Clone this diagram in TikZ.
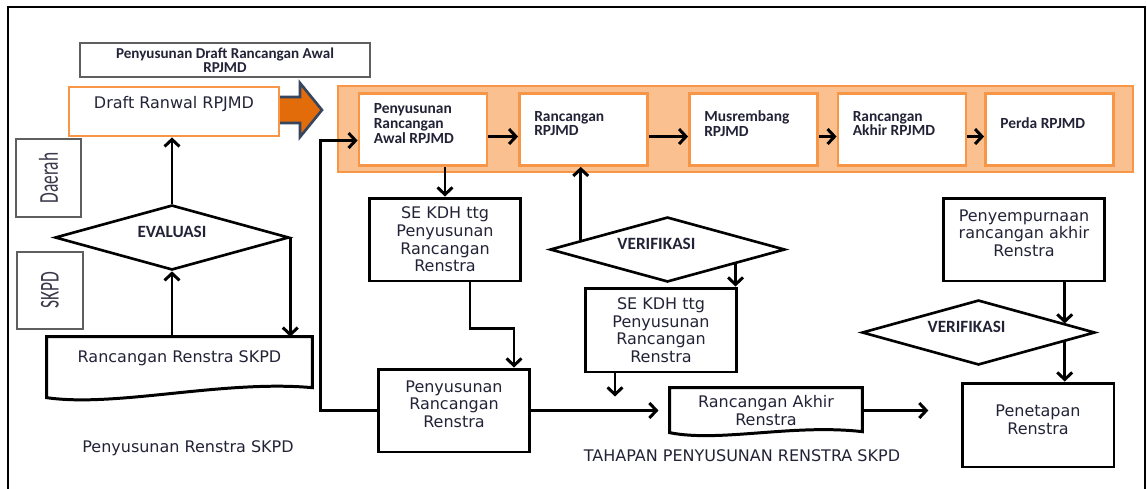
\documentclass[tikz,border=0pt]{standalone}
\usepackage{fontspec}
\setmainfont{DejaVu Sans}
\newfontfamily\calibrifont{Carlito}
\usetikzlibrary{arrows.meta,shapes.geometric}

\definecolor{ink}{RGB}{35,35,55}
\definecolor{orangeline}{RGB}{247,150,70}
\definecolor{orangefill}{RGB}{250,192,143}
\definecolor{arrowfill}{RGB}{226,107,10}
\definecolor{arrowline}{RGB}{55,70,95}
\definecolor{greyline}{RGB}{95,95,95}

\begin{document}
\begin{tikzpicture}[x=0.02cm, y=-0.02cm, >={Straight Barb[length=4pt,width=8.5pt]},
  box/.style={draw, line width=1.7pt, minimum width=3.04cm, minimum height=1.66cm, inner sep=0pt},
  bandbox/.style={draw=orangeline, line width=1.6pt, fill=white, minimum width=2.56cm, minimum height=1.44cm, inner sep=0pt},
  greybox/.style={draw=greyline, line width=1.1pt, inner sep=0pt},
  decision/.style={diamond, draw, line width=1.5pt, minimum width=4.68cm, minimum height=1.3cm, inner sep=0pt},
  docnode/.style={inner sep=0pt},
  plaintxt/.style={font=\fontsize{9.1}{10}\selectfont, text=ink, align=center, inner sep=0pt},
  boldtxt/.style={font=\calibrifont\bfseries\fontsize{8.8}{8.4}\selectfont, text=ink, align=left, inner sep=0pt},
  decisiontxt/.style={font=\calibrifont\bfseries\fontsize{9.8}{10}\selectfont, text=ink, inner sep=0pt},
  sidetxt/.style={font=\calibrifont\fontsize{15.5}{16}\selectfont, text=ink!90},
  flow/.style={->, line width=1.7pt}]

\useasboundingbox (0,0) rectangle (1147,488);

% outer frame
\draw[line width=1.3pt] (8,489) -- (8,7) -- (1145,7) -- (1145,489);

% left part: Penyusunan Renstra SKPD
\node[greybox, minimum width=5.8cm, minimum height=0.68cm, font=\calibrifont\bfseries\fontsize{8.6}{8}\selectfont,
  text=ink, align=center] (title) at (225,60) {Penyusunan Draft Rancangan Awal\\RPJMD};

\draw[line width=1.5pt, draw=arrowline, fill=arrowfill]
  (278,97) -- (300,97) -- (300,83) -- (322,110) -- (300,137) -- (300,123) -- (278,123) -- cycle;

\node[draw=orangeline, line width=1.6pt, fill=white, minimum width=4.2cm, minimum height=0.98cm,
  label={[plaintxt, yshift=4pt]center:Draft Ranwal RPJMD}] (draft) at (174,111.5) {};

\node[greybox, rotate=90, minimum width=1.56cm, minimum height=1.3cm, sidetxt] (daerah) at (48.5,178)
  {\scalebox{0.64}[1]{Daerah}};
\node[greybox, rotate=90, minimum width=1.54cm, minimum height=1.32cm, sidetxt] (skpd) at (50,290.5)
  {\scalebox{0.64}[1]{SKPD}};

\node[decision, label={[decisiontxt, yshift=3pt]center:EVALUASI}] (eval) at (172,237.5) {};

\node[docnode, minimum width=5.3cm, minimum height=1.12cm,
  label={[plaintxt, yshift=4pt]center:Rancangan Renstra SKPD}] (rrs) at (179.5,365) {};
\draw[line width=1.7pt] (rrs.north west) -- (rrs.north east) -- ++(0,51)
  .. controls +(-90,-8) and +(70,10) .. ([shift={(0,61)}]rrs.north west) -- cycle;

\node[plaintxt] (capskpd) at (188,448) {Penyusunan Renstra SKPD};

\draw[flow] (eval.north) -- (eval.north |- draft.south);
\draw[flow] (rrs.north -| eval.south) -- (eval.south);
\draw[flow] (eval.east) -- (eval.east |- rrs.north);

% band RPJMD
\node[draw=orangeline, line width=1.6pt, fill=orangefill, minimum width=15.9cm, minimum height=1.72cm] (band) at (735.5,129) {};

\node[bandbox, label={[boldtxt, anchor=west, xshift=9pt, yshift=3.4pt]west:Penyusunan\\Rancangan\\Awal RPJMD}] (b1) at (423,129.5) {};
\node[bandbox, label={[boldtxt, anchor=west, xshift=9pt, yshift=3.4pt]west:Rancangan\\RPJMD}] (b2) at (583.5,129.5) {};
\node[bandbox, label={[boldtxt, anchor=west, xshift=9pt, yshift=3.4pt]west:Musrembang\\RPJMD}] (b3) at (753.5,129.5) {};
\node[bandbox, label={[boldtxt, anchor=west, xshift=9pt, yshift=3.4pt]west:Rancangan\\Akhir RPJMD}] (b4) at (902,129.5) {};
\node[bandbox, label={[boldtxt, anchor=west, xshift=9pt, yshift=3.4pt]west:Perda RPJMD}] (b5) at (1049.5,129.5) {};

\foreach \a/\b in {b1/b2, b2/b3, b3/b4, b4/b5}
  \draw[flow] ([yshift=-4pt]\a.east) -- ([yshift=-4pt]\b.west);

% tahapan penyusunan renstra
\node[box, plaintxt] (se1) at (445,239.5) {SE KDH ttg\\Penyusunan\\Rancangan\\Renstra};
\node[box, label={[plaintxt, yshift=3.7pt]center:Penyusunan\\Rancangan\\Renstra}] (prr) at (454,410.5) {};
\node[decision, minimum width=4.7cm, label={[decisiontxt, xshift=-6.3pt, yshift=3.4pt]center:VERIFIKASI}] (ver1) at (667.5,249.5) {};
\node[box, plaintxt, minimum height=1.68cm] (se2) at (661,330) {SE KDH ttg\\Penyusunan\\Rancangan\\Renstra};

\node[docnode, minimum width=3.84cm, minimum height=0.9cm, plaintxt] (rar) at (766,410.5) {Rancangan Akhir\\Renstra};
\draw[line width=1.7pt] (rar.north west) -- (rar.north east) -- ++(0,44)
  .. controls +(-70,-8) and +(50,10) .. ([shift={(0,45)}]rar.north west) -- cycle;

\node[box, minimum width=3.24cm, label={[plaintxt, yshift=3.7pt]center:Penyempurnaan\\rancangan akhir\\Renstra}] (penyemp) at (1024,239.5) {};
\node[decision, minimum width=4.66cm, label={[decisiontxt, xshift=-6.8pt, yshift=3.4pt]center:VERIFIKASI}] (ver2) at (978.5,332.5) {};
\node[box, minimum height=1.68cm, label={[plaintxt, yshift=3pt]center:Penetapan\\Renstra}] (pen) at (1038,425) {};

\node[plaintxt] (captahap) at (742,456) {TAHAPAN PENYUSUNAN RENSTRA SKPD};

\draw[flow] (prr.west) -- ++(-56,0) |- ([shift={(0,11)}]b1.west);
\draw[flow] (se1.north |- b1.south) -- (se1.north);
\draw[flow] ([shift={(25,0)}]se1.south) -- ++(0,46) -| ([shift={(60,0)}]prr.north);
\draw[flow] (ver1.174) -- (ver1.174 |- b2.south);
\draw[flow] (ver1.-12) -- (ver1.-12 |- se2.north);
\draw[flow] ([shift={(-46,0)}]se2.south) -- ++(0,23);
\draw[flow] (prr.east) -- ++(127,0);
\draw[flow] (rar.east) -- ++(66,0);
\draw[flow] (ver2.6 |- penyemp.south) -- (ver2.6);
\draw[flow] (ver2.-6) -- (ver2.-6 |- pen.north);
\end{tikzpicture}
\end{document}
